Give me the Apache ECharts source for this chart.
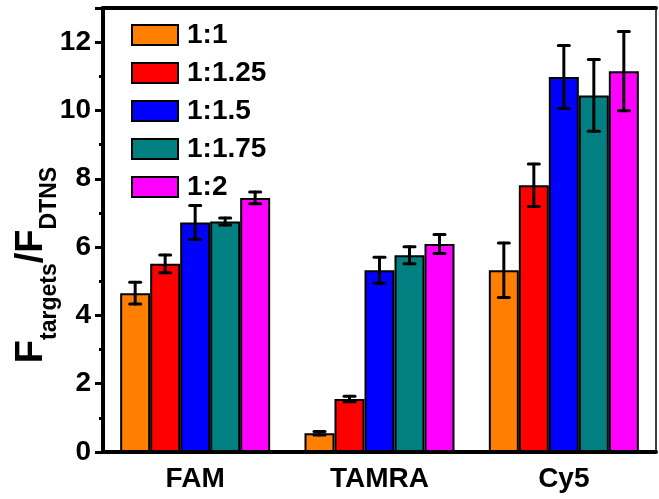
<!DOCTYPE html>
<html>
<head>
<meta charset="utf-8">
<script src="https://cdn.jsdelivr.net/npm/echarts@6/dist/echarts.min.js"></script>
<style>
  html, body { margin: 0; padding: 0; background: #fff; }
  #chart { width: 659px; height: 499px; }
</style>
</head>
<body>
<div id="chart"></div>
<script>
// dyes on the x axis
const categories = ['FAM', 'TAMRA', 'Cy5'];
const ratios = ['1:1', '1:1.25', '1:1.5', '1:1.75', '1:2'];
const colors = ['#FF8000', '#FF0000', '#0000FF', '#008080', '#FF00FF'];

// F_targets / F_DTNS, one array per ratio (FAM, TAMRA, Cy5)
const r1 = [4.65, 0.55, 5.32];
const r125 = [5.51, 1.55, 7.81];
const r15 = [6.72, 5.32, 10.98];
const r175 = [6.75, 5.76, 10.44];
const r2 = [7.44, 6.09, 11.15];

// error bars (+/-)
const e1 = [0.32, 0.05, 0.80];
const e125 = [0.26, 0.08, 0.62];
const e15 = [0.50, 0.38, 0.92];
const e175 = [0.10, 0.25, 1.05];
const e2 = [0.17, 0.28, 1.16];

const yTicks = [0, 2, 4, 6, 8, 10, 12];

const values = [r1, r125, r15, r175, r2];
const errors = [e1, e125, e15, e175, e2];

const BAR_W = 30;
const FONT = "'Liberation Sans', Arial, sans-serif";

const chart = echarts.init(document.getElementById('chart'));

// rows for the error bar series: [category, ratio index, value, error]
const errRows = [];
values.forEach((arr, s) => {
  arr.forEach((v, c) => errRows.push([c, s, v, errors[s][c]]));
});

const barSeries = ratios.map((name, i) => ({
  name: name,
  type: 'bar',
  xAxisIndex: 0,
  barWidth: BAR_W,
  barGap: '0%',
  data: values[i],
  itemStyle: { color: colors[i], borderColor: '#000', borderWidth: 2 },
  emphasis: { disabled: true }
}));

const option = {
  animation: false,
  backgroundColor: '#fff',
  grid: { left: 103, right: 3, top: 8, bottom: 47, containLabel: false, outerBoundsMode: 'none' },
  legend: {
    data: ratios,
    orient: 'vertical',
    left: 126,
    top: 16,
    itemWidth: 46,
    itemHeight: 20,
    itemGap: 10,
    icon: 'rect',
    textStyle: { fontFamily: FONT, fontWeight: 'bold', fontSize: 28, color: '#000', padding: [0, 0, 0, 4] }
  },
  xAxis: [
    {
      type: 'category',
      data: categories,
      position: 'bottom',
      axisLine: { lineStyle: { color: '#000', width: 4 } },
      axisTick: { alignWithLabel: true, length: 10, lineStyle: { color: '#000', width: 3 } },
      axisLabel: { fontFamily: FONT, fontWeight: 'bold', fontSize: 28, color: '#000', margin: 13 }
    },
    {
      type: 'category',
      data: categories,
      position: 'bottom',
      axisLine: { show: false },
      axisTick: { length: 6, lineStyle: { color: '#000', width: 3 } },
      axisLabel: { show: false }
    },
    {
      type: 'category',
      data: categories,
      position: 'top',
      axisLine: { lineStyle: { color: '#000', width: 4 } },
      axisTick: { show: false },
      axisLabel: { show: false }
    }
  ],
  yAxis: [
    {
      type: 'value',
      min: 0,
      max: 13,
      interval: 2,
      splitLine: { show: false },
      axisLine: { show: true, lineStyle: { color: '#000', width: 4 } },
      axisTick: { show: true, length: 8, lineStyle: { color: '#000', width: 3 } },
      minorTick: { show: true, splitNumber: 2, length: 4, lineStyle: { color: '#000', width: 3 } },
      axisLabel: {
        fontFamily: FONT, fontWeight: 'bold', fontSize: 28, color: '#000', margin: 12,
        formatter: v => (yTicks.indexOf(v) >= 0 ? String(v) : '')
      },
      name: '{f|F}{s|targets}{f|/F}{s|DTNS}',
      nameLocation: 'middle',
      nameRotate: 90,
      nameGap: 42,
      nameMoveOverlap: false,
      nameTextStyle: {
        padding: [0, 70, 0, 0],
        rich: {
          f: { fontFamily: FONT, fontWeight: 'bold', fontSize: 38, lineHeight: 38, padding: [0, 0, 10, 0], verticalAlign: 'bottom', color: '#000' },
          s: { fontFamily: FONT, fontWeight: 'bold', fontSize: 23, lineHeight: 25, verticalAlign: 'bottom', color: '#000' }
        }
      }
    },
    {
      type: 'value',
      min: 0,
      max: 13,
      interval: 2,
      position: 'right',
      splitLine: { show: false },
      axisLine: { show: true, lineStyle: { color: '#000', width: 1.5 } },
      axisTick: { show: false },
      axisLabel: { show: false }
    }
  ],
  series: barSeries.concat([{
    type: 'custom',
    name: 'error',
    xAxisIndex: 0,
    z: 10,
    encode: { x: 0, y: 2 },
    data: errRows,
    renderItem: function (params, api) {
      const c = api.value(0);
      const s = api.value(1);
      const v = api.value(2);
      const e = api.value(3);
      const base = api.coord([c, v]);
      const x = base[0] + (s - 2) * BAR_W;
      const yTop = api.coord([c, v + e])[1];
      const yBot = api.coord([c, v - e])[1];
      const cap = 5.5;
      const style = { stroke: '#000', lineWidth: 3, lineCap: 'round' };
      return {
        type: 'group',
        children: [
          { type: 'line', shape: { x1: x, y1: yTop, x2: x, y2: yBot }, style: style },
          { type: 'line', shape: { x1: x - cap, y1: yTop, x2: x + cap, y2: yTop }, style: style },
          { type: 'line', shape: { x1: x - cap, y1: yBot, x2: x + cap, y2: yBot }, style: style }
        ]
      };
    }
  }])
};

chart.setOption(option);
</script>
</body>
</html>
